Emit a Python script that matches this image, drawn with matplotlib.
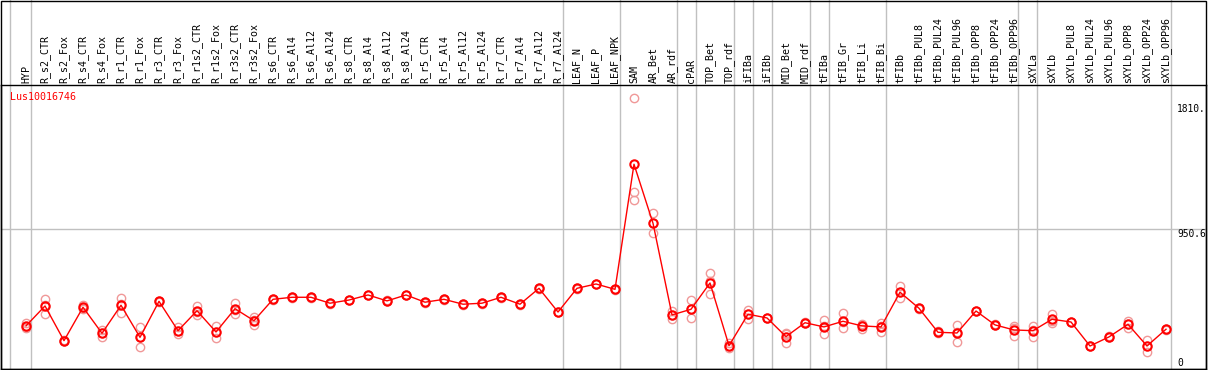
import numpy as np
import matplotlib
matplotlib.use('Agg')
import matplotlib.pyplot as plt
from matplotlib.patches import Rectangle

gene = 'Lus10016746'

samples = ['HYP', 'R_s2_CTR', 'R_s2_Fox', 'R_s4_CTR', 'R_s4_Fox', 'R_r1_CTR', 'R_r1_Fox',
           'R_r3_CTR', 'R_r3_Fox', 'R_r1s2_CTR', 'R_r1s2_Fox', 'R_r3s2_CTR', 'R_r3s2_Fox',
           'R_s6_CTR', 'R_s6_Al4', 'R_s6_Al12', 'R_s6_Al24', 'R_s8_CTR', 'R_s8_Al4',
           'R_s8_Al12', 'R_s8_Al24', 'R_r5_CTR', 'R_r5_Al4', 'R_r5_Al12', 'R_r5_Al24',
           'R_r7_CTR', 'R_r7_Al4', 'R_r7_Al12', 'R_r7_Al24', 'LEAF_N', 'LEAF_P', 'LEAF_NPK',
           'SAM', 'AR_Bet', 'AR_rdf', 'cPAR', 'TOP_Bet', 'TOP_rdf', 'iFIBa', 'iFIBb',
           'MID_Bet', 'MID_rdf', 'tFIBa', 'tFIB_Gr', 'tFIB_Li', 'tFIB_Bi', 'tFIBb',
           'tFIBb_PUL8', 'tFIBb_PUL24', 'tFIBb_PUL96', 'tFIBb_OPP8', 'tFIBb_OPP24',
           'tFIBb_OPP96', 'sXYLa', 'sXYLb', 'sXYLb_PUL8', 'sXYLb_PUL24', 'sXYLb_PUL96',
           'sXYLb_OPP8', 'sXYLb_OPP24', 'sXYLb_OPP96']

mean_expr = [277, 415, 175, 406, 226, 420, 198, 447, 244, 382, 235, 396, 313,
             461, 475, 475, 434, 456, 491, 450, 491, 441, 461, 427, 434, 475, 427, 537, 373,
             537, 567, 530,
             1395, 987, 353, 392, 574, 140, 358, 332, 203, 299, 270, 309, 277, 270,
             510, 399, 233, 228, 380, 284, 249, 244, 323, 304, 138, 201, 288, 138, 254]

# replicate values, three per sample
reps = [
    [299, 268, 264], [461, 360, 424], [180, 170, 175], [422, 394, 402], [249, 198, 231],
    [468, 364, 428], [268, 129, 197], [450, 444, 447], [272, 221, 239], [417, 353, 376],
    [277, 194, 234], [438, 360, 390], [337, 286, 316],
    [464, 458, 461], [478, 472, 475], [478, 472, 475], [437, 431, 434], [459, 453, 456],
    [494, 488, 491], [453, 447, 450], [494, 488, 491], [444, 438, 441], [464, 458, 461],
    [430, 424, 427], [437, 431, 434], [478, 472, 475], [430, 424, 427], [540, 534, 537],
    [376, 370, 373], [540, 534, 537], [570, 564, 567], [533, 527, 530],
    [1851, 1201, 1148], [1056, 918, 987], [380, 323, 353], [454, 330, 392],
    [641, 496, 585], [122, 140, 158], [387, 327, 360], [335, 329, 332], [230, 161, 218],
    [302, 296, 299], [318, 219, 273], [364, 261, 302], [288, 258, 285], [299, 233, 278],
    [553, 468, 509], [402, 396, 399], [240, 226, 233], [284, 164, 236], [383, 377, 380],
    [287, 281, 284], [279, 207, 261], [279, 203, 250], [360, 295, 314], [307, 301, 304],
    [141, 135, 138], [204, 198, 201], [311, 261, 292], [180, 95, 139], [257, 251, 254],
]

# group separators (in sample index units)
separators = [-0.83, 0.25, 28.25, 31.25, 34.25, 35.25, 37.25, 38.25, 39.25,
              41.25, 42.25, 45.25, 52.22, 53.22, 60.25]
y_ticks = [0, 950.6, 1810]
y_tick_labels = ['0', '950.6', '1810.']

W, H = 1209, 370
fig = plt.figure(figsize=(W / 100, H / 100), dpi=100)
# data area: x 1..1206 px, y 85..369 px (from top)
ax = fig.add_axes([1 / W, (H - 369) / H, 1205 / W, 284 / H])

x = np.arange(len(samples))
ax.set_xlim((1 - 26) / 19, (1206 - 26) / 19)
ax.set_ylim(-21, 1943)

mono = 'DejaVu Sans Mono'
grey = '#c0c0c0'
ext = (284 + 85) / 284

for s in separators:
    ax.axvline(s, ymin=0, ymax=ext, color=grey, lw=1, clip_on=False, zorder=1)
ax.axhline(950.6, color=grey, lw=1, zorder=1)

for i, r in enumerate(reps):
    ax.plot([x[i]] * len(r), r, 'o', ms=6, mfc='none', mec='#f09898', mew=1, zorder=2)
ax.plot(x, mean_expr, '-', color='red', lw=1, zorder=3)
ax.plot(x, mean_expr, 'o', ms=6, mfc='none', mec='red', mew=1.5, zorder=4)

tr = ax.get_xaxis_transform()
for i, name in enumerate(samples):
    ax.text(x[i], 1 + 2 / 284, name, transform=tr, rotation=90, ha='center', va='bottom',
            family=mono, fontsize=7.2, clip_on=False)

ax.text((10 - 26) / 19, 1860, gene, color='red', family=mono, fontsize=7.2, va='center')

tx = (1177 - 26) / 19
for v, lab in zip(y_ticks, y_tick_labels):
    va = 'baseline' if v == 0 else 'top'
    ax.text(tx, v, lab, family=mono, fontsize=6.9, ha='left', va=va)

ax.set_xticks([])
ax.set_yticks([])
for sp in ax.spines.values():
    sp.set_color('black')
    sp.set_linewidth(1)

# outer frame including the label band
fig.patches.append(Rectangle((1 / W, (H - 369) / H), 1205 / W, 368.5 / H, transform=fig.transFigure,
                             fill=False, edgecolor='black', lw=1))

fig.savefig('out.png', dpi=100)
